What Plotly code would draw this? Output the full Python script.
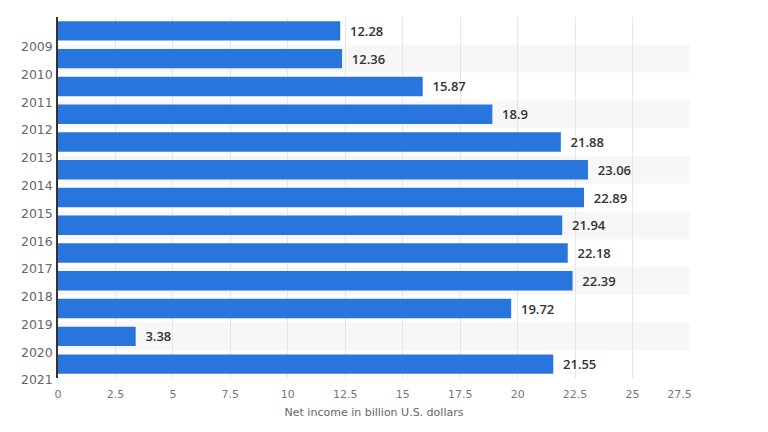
import plotly.graph_objects as go

years = ["2009", "2010", "2011", "2012", "2013", "2014", "2015", "2016", "2017", "2018", "2019", "2020", "2021"]
net_income = [12.28, 12.36, 15.87, 18.9, 21.88, 23.06, 22.89, 21.94, 22.18, 22.39, 19.72, 3.38, 21.55]
x_ticks = [0, 2.5, 5, 7.5, 10, 12.5, 15, 17.5, 20, 22.5, 25, 27.5]
x_tick_labels = ["0", "2.5", "5", "7.5", "10", "12.5", "15", "17.5", "20", "22.5", "25",
                 "27.5" + "\u00a0" * 6]

pos = list(range(len(years)))

fig = go.Figure()
fig.add_trace(go.Bar(
    y=pos, x=net_income, orientation="h", width=0.7,
    marker=dict(color="#2875de", line=dict(width=0)),
    text=["  " + str(v) for v in net_income], textposition="outside",
    textfont=dict(family="Open Sans", size=13, color="#333333", weight=600),
    cliponaxis=False, hoverinfo="skip",
))

shapes = []
for i in pos:
    if i % 2 == 1:
        shapes.append(dict(type="rect", xref="x", yref="y", x0=0, x1=27.5,
                           y0=i - 0.5, y1=i + 0.5, fillcolor="#f7f7f7",
                           line=dict(width=0), layer="below"))

fig.update_layout(
    width=768, height=432,
    margin=dict(l=50, r=86, t=9, b=62, autoexpand=False),
    paper_bgcolor="white", plot_bgcolor="white",
    showlegend=False, shapes=shapes,
    font=dict(family="DejaVu Sans", color="#666666"),
    xaxis=dict(range=[0, 27.5], tickvals=x_ticks, ticktext=x_tick_labels,
               showgrid=True, gridcolor="#e6e6e6", gridwidth=1, zeroline=False,
               tickfont=dict(size=11, color="#777777"), ticks="", automargin=False,
               ticklabelstandoff=8,
               title=dict(text="Net income in billion U.S. dollars",
                          font=dict(size=11, color="#666666"), standoff=8)),
    yaxis=dict(range=[12.5, -0.5], tickvals=[i + 0.5 for i in pos], ticktext=years,
               showgrid=False, zeroline=False, showline=True, linecolor="#333333",
               linewidth=1.5, ticks="", tickfont=dict(size=12.5, color="#666666"),
               automargin=False, ticklabelstandoff=1, ticklabelshift=-2),
)

fig.write_html("out.html")
